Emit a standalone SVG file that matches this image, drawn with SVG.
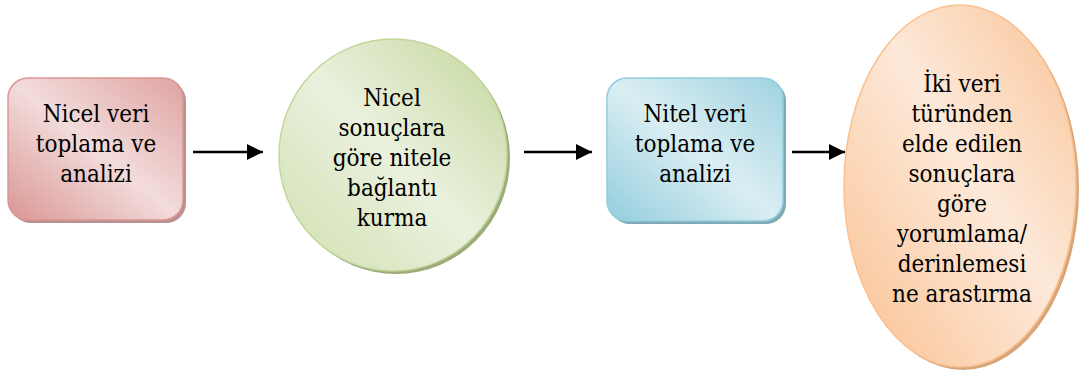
<svg xmlns="http://www.w3.org/2000/svg" width="1079" height="374" viewBox="0 0 1079 374">
<defs>
<linearGradient id="gPink" x1="0" y1="1" x2="1" y2="0">
<stop offset="0" stop-color="#d99694"/><stop offset="0.5" stop-color="#f2dcdb"/><stop offset="1" stop-color="#dfa3a2"/>
</linearGradient>
<linearGradient id="gGreen" x1="0" y1="1" x2="1" y2="0">
<stop offset="0" stop-color="#cfdfae"/><stop offset="0.5" stop-color="#ebf1de"/><stop offset="1" stop-color="#c3d69b"/>
</linearGradient>
<linearGradient id="gBlue" x1="0" y1="1" x2="1" y2="0">
<stop offset="0" stop-color="#93cddd"/><stop offset="0.5" stop-color="#daeef3"/><stop offset="1" stop-color="#9fd2e0"/>
</linearGradient>
<linearGradient id="gOrange" x1="0" y1="1" x2="1" y2="0">
<stop offset="0" stop-color="#fac090"/><stop offset="0.55" stop-color="#fde9d9"/><stop offset="1" stop-color="#f9c396"/>
</linearGradient>
<marker id="arr" markerUnits="userSpaceOnUse" markerWidth="17" markerHeight="17" refX="16" refY="8" orient="auto">
<path d="M0,0 L16,8 L0,16 z" fill="#000"/>
</marker>
<style>
.lbl{font-family:"DejaVu Serif Condensed","DejaVu Serif","Liberation Serif",serif;font-stretch:condensed;font-size:24px;fill:#000;text-anchor:middle}
.conn line{stroke:#000;stroke-width:2.5;marker-end:url(#arr)}
</style>
</defs>

<g id="node1">
<rect x="11" y="81" width="175" height="142" rx="20" fill="#b89190"/>
<rect x="8" y="78" width="175" height="142" rx="20" fill="url(#gPink)" stroke="#d99694" stroke-width="1.5"/>
<text class="lbl" x="96" y="122">Nicel veri</text>
<text class="lbl" x="96" y="152">toplama ve</text>
<text class="lbl" x="96" y="182">analizi</text>
</g>

<g id="node2">
<ellipse cx="396" cy="158" rx="114" ry="116" fill="#9bab7a"/>
<ellipse cx="393" cy="155" rx="114" ry="116" fill="url(#gGreen)" stroke="#c3d69b" stroke-width="1.5"/>
<text class="lbl" x="392" y="106">Nicel</text>
<text class="lbl" x="392" y="136">sonuçlara</text>
<text class="lbl" x="392" y="166">göre nitele</text>
<text class="lbl" x="392" y="196">bağlantı</text>
<text class="lbl" x="392" y="226">kurma</text>
</g>

<g id="node3">
<rect x="610" y="81" width="176" height="143" rx="20" fill="#7fa9b5"/>
<rect x="607" y="78" width="176" height="143" rx="20" fill="url(#gBlue)" stroke="#93cddd" stroke-width="1.5"/>
<text class="lbl" x="695" y="122">Nitel veri</text>
<text class="lbl" x="695" y="152">toplama ve</text>
<text class="lbl" x="695" y="182">analizi</text>
</g>

<g id="node4">
<ellipse cx="963" cy="189" rx="116" ry="181" fill="#d7a57a"/>
<ellipse cx="960" cy="186" rx="116" ry="181" fill="url(#gOrange)" stroke="#fac090" stroke-width="1.5"/>
<text class="lbl" x="962" y="92">İki veri</text>
<text class="lbl" x="962" y="122">türünden</text>
<text class="lbl" x="962" y="152">elde edilen</text>
<text class="lbl" x="962" y="182">sonuçlara</text>
<text class="lbl" x="962" y="212">göre</text>
<text class="lbl" x="962" y="242">yorumlama/</text>
<text class="lbl" x="962" y="272">derinlemesi</text>
<text class="lbl" x="962" y="302">ne arastırma</text>
</g>

<g id="connectors" class="conn">
<line x1="193" y1="152" x2="263" y2="152"/>
<line x1="524" y1="152" x2="592" y2="152"/>
<line x1="792" y1="152" x2="845" y2="152"/>
</g>
</svg>
